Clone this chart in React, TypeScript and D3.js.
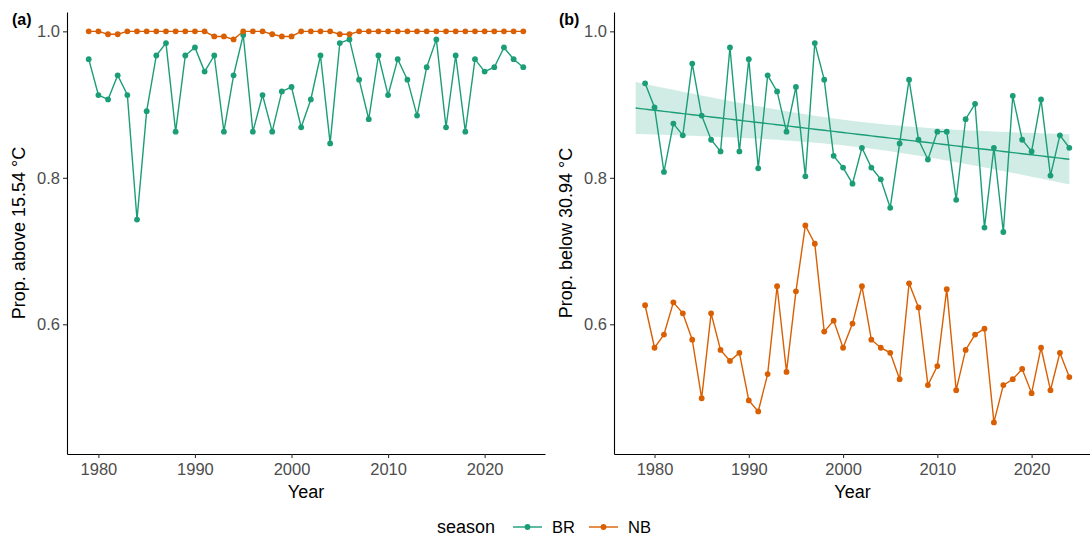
import React, { useEffect, useRef } from "react";
import * as d3 from "d3";

// years shown in both panels
const years = [
  1979, 1980, 1981, 1982, 1983, 1984, 1985, 1986, 1987, 1988,
  1989, 1990, 1991, 1992, 1993, 1994, 1995, 1996, 1997, 1998,
  1999, 2000, 2001, 2002, 2003, 2004, 2005, 2006, 2007, 2008,
  2009, 2010, 2011, 2012, 2013, 2014, 2015, 2016, 2017, 2018,
  2019, 2020, 2021, 2022, 2023, 2024,
];

// panel (a): proportion above 15.54 °C
const brAbove = [
  0.962, 0.913, 0.907, 0.94, 0.913, 0.743, 0.891, 0.967, 0.984, 0.863,
  0.967, 0.978, 0.945, 0.967, 0.863, 0.94, 0.995, 0.863, 0.913, 0.863,
  0.918, 0.924, 0.869, 0.907, 0.967, 0.847, 0.984, 0.989, 0.934, 0.88,
  0.967, 0.913, 0.962, 0.934, 0.885, 0.951, 0.989, 0.869, 0.967, 0.863,
  0.962, 0.945, 0.951, 0.978, 0.962, 0.951,
];
const nbAbove = [
  1, 1, 0.996, 0.996, 1, 1, 1, 1, 1, 1,
  1, 1, 1, 0.993, 0.993, 0.989, 1, 1, 1, 0.996,
  0.993, 0.993, 1, 1, 1, 1, 0.996, 0.996, 1, 1,
  1, 1, 1, 1, 1, 1, 1, 1, 1, 1,
  1, 1, 1, 1, 1, 1,
];

// panel (b): proportion below 30.94 °C
const brBelow = [
  0.929, 0.896, 0.808, 0.874, 0.858, 0.956, 0.885, 0.852, 0.836, 0.978,
  0.836, 0.962, 0.813, 0.94, 0.918, 0.863, 0.924, 0.802, 0.984, 0.934,
  0.83, 0.814, 0.792, 0.841, 0.814, 0.798, 0.759, 0.847, 0.934, 0.852,
  0.825, 0.863, 0.863, 0.77, 0.88, 0.901, 0.732, 0.841, 0.726, 0.912,
  0.852, 0.836, 0.907, 0.803, 0.858, 0.841,
];
const nbBelow = [
  0.626, 0.568, 0.586, 0.63, 0.615, 0.579, 0.499, 0.615, 0.565, 0.55,
  0.561, 0.496, 0.481, 0.532, 0.652, 0.535, 0.645, 0.735, 0.71, 0.59,
  0.605, 0.568, 0.601, 0.652, 0.579, 0.568, 0.561, 0.525, 0.656, 0.623,
  0.517, 0.543, 0.648, 0.51, 0.565, 0.586, 0.594, 0.466, 0.517, 0.525,
  0.539, 0.506, 0.568, 0.51, 0.561, 0.528,
];

const seasons = ["BR", "NB"];
const colors = ["#1b9e77", "#d95f02"];
const xTicks = [1980, 1990, 2000, 2010, 2020];
const yTicks = [0.6, 0.8, 1.0];
const fitRange = [1978, 2024];
const tCrit = 2.015; // t(0.975, df = 44)

const FONT = "'Liberation Sans', Arial, Helvetica, sans-serif";

const App: React.FC = () => {
  const svgRef = useRef<SVGSVGElement>(null);

  useEffect(() => {
    const svg = d3.select(svgRef.current);
    svg.selectAll("*").remove();

    const top = 12;
    const bottom = 454;
    const yScale = d3.scaleLinear().domain([0.4229, 1.0264]).range([bottom, top]);

    const panels = [
      {
        tag: "(a)",
        title: "Prop. above 15.54 °C",
        left: 67,
        right: 545,
        domain: [1976.75, 2026.25],
        series: [brAbove, nbAbove],
        fit: false,
      },
      {
        tag: "(b)",
        title: "Prop. below 30.94 °C",
        left: 614,
        right: 1091,
        domain: [1975.7, 2026.3],
        series: [brBelow, nbBelow],
        fit: true,
      },
    ];

    panels.forEach((p) => {
      const x = d3.scaleLinear().domain(p.domain).range([p.left, p.right]);
      const g = svg.append("g");

      // smooth (lm) for BR in panel b
      if (p.fit) {
        const ys = p.series[0];
        const n = years.length;
        const xbar = d3.mean(years) as number;
        const ybar = d3.mean(ys) as number;
        let sxx = 0;
        let sxy = 0;
        years.forEach((yr, i) => {
          sxx += (yr - xbar) ** 2;
          sxy += (yr - xbar) * (ys[i] - ybar);
        });
        const slope = sxy / sxx;
        const icpt = ybar - slope * xbar;
        let sse = 0;
        years.forEach((yr, i) => {
          sse += (ys[i] - (icpt + slope * yr)) ** 2;
        });
        const s = Math.sqrt(sse / (n - 2));
        const grid = d3.range(fitRange[0], fitRange[1] + 0.001, 0.5);
        const band = grid.map((xv) => {
          const fit = icpt + slope * xv;
          const se = s * Math.sqrt(1 / n + (xv - xbar) ** 2 / sxx);
          return { x: xv, fit, lo: fit - tCrit * se, hi: fit + tCrit * se };
        });
        const area = d3
          .area<{ x: number; lo: number; hi: number }>()
          .x((d) => x(d.x))
          .y0((d) => yScale(d.lo))
          .y1((d) => yScale(d.hi));
        g.append("path")
          .attr("d", area(band) || "")
          .attr("fill", colors[0])
          .attr("fill-opacity", 0.2);
        const fl = d3
          .line<{ x: number; fit: number }>()
          .x((d) => x(d.x))
          .y((d) => yScale(d.fit));
        g.append("path")
          .attr("d", fl(band) || "")
          .attr("fill", "none")
          .attr("stroke", colors[0])
          .attr("stroke-width", 1.4);
      }

      p.series.forEach((vals, si) => {
        const line = d3
          .line<number>()
          .x((_, i) => x(years[i]))
          .y((d) => yScale(d));
        g.append("path")
          .attr("d", line(vals) || "")
          .attr("fill", "none")
          .attr("stroke", colors[si])
          .attr("stroke-width", 1.4);
        g.selectAll(null)
          .data(vals)
          .enter()
          .append("circle")
          .attr("cx", (_, i) => x(years[i]))
          .attr("cy", (d) => yScale(d))
          .attr("r", 2.9)
          .attr("fill", colors[si]);
      });

      // axes
      const yAxis = d3
        .axisLeft(yScale)
        .tickValues(yTicks)
        .tickFormat(d3.format(".1f"))
        .tickSize(4)
        .tickSizeOuter(0)
        .tickPadding(3);
      const ya = g.append("g").attr("transform", `translate(${p.left},0)`).call(yAxis);

      const xAxis = d3
        .axisBottom(x)
        .tickValues(xTicks)
        .tickFormat(d3.format("d"))
        .tickSize(4)
        .tickSizeOuter(0)
        .tickPadding(5);
      const xa = g.append("g").attr("transform", `translate(0,${bottom})`).call(xAxis);

      [ya, xa].forEach((a) => {
        a.select(".domain").attr("stroke", "#000").attr("stroke-width", 1.1);
        a.selectAll(".tick line").attr("stroke", "#333").attr("stroke-width", 1.1);
        a.selectAll(".tick text")
          .attr("fill", "#4d4d4d")
          .style("font-size", "16.5px")
          .style("font-family", FONT);
      });

      g.append("text")
        .attr("x", (p.left + p.right) / 2)
        .attr("y", 498)
        .attr("text-anchor", "middle")
        .style("font-size", "18px")
        .style("font-family", FONT)
        .attr("fill", "#000")
        .text("Year");

      g.append("text")
        .attr("transform", `translate(${p.left - 42},${(top + bottom) / 2}) rotate(-90)`)
        .attr("text-anchor", "middle")
        .style("font-size", "18px")
        .style("font-family", FONT)
        .attr("fill", "#000")
        .text(p.title);

      g.append("text")
        .attr("x", p.left - 55)
        .attr("y", 25)
        .style("font-size", "16px")
        .style("font-weight", "bold")
        .style("font-family", FONT)
        .attr("fill", "#000")
        .text(p.tag);
    });

    // legend
    const lg = svg.append("g");
    const ly = 527;
    lg.append("text")
      .attr("x", 437)
      .attr("y", ly)
      .attr("dominant-baseline", "central")
      .style("font-size", "18px")
      .style("font-family", FONT)
      .text("season");
    const keyX = [513, 589];
    seasons.forEach((s, i) => {
      lg.append("line")
        .attr("x1", keyX[i])
        .attr("x2", keyX[i] + 29)
        .attr("y1", ly)
        .attr("y2", ly)
        .attr("stroke", colors[i])
        .attr("stroke-width", 1.4);
      lg.append("circle")
        .attr("cx", keyX[i] + 14.5)
        .attr("cy", ly)
        .attr("r", 2.9)
        .attr("fill", colors[i]);
      lg.append("text")
        .attr("x", keyX[i] + 39)
        .attr("y", ly)
        .attr("dominant-baseline", "central")
        .style("font-size", "16.5px")
        .style("font-family", FONT)
        .text(s);
    });
  }, []);

  return (
    <svg
      ref={svgRef}
      width={1090}
      height={537}
      style={{ position: "absolute", left: 0, top: 0, background: "#fff" }}
    />
  );
};

export default App;
